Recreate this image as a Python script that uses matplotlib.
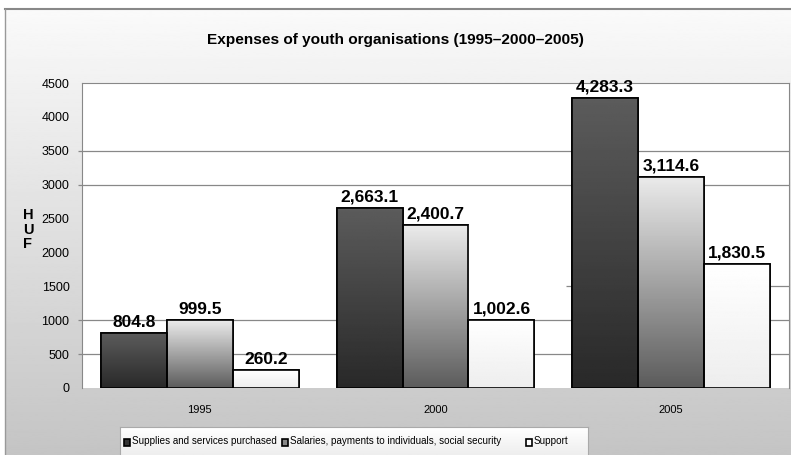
import matplotlib.pyplot as plt
import numpy as np
from matplotlib.patches import Rectangle

# data
years = ['1995', '2000', '2005']
supplies = [804.8, 2663.1, 4283.3]
salaries = [999.5, 2400.7, 3114.6]
support = [260.2, 1002.6, 1830.5]
series_names = ['Supplies and services purchased',
                'Salaries, payments to individuals, social security',
                'Support']
yticks = [0, 500, 1000, 1500, 2000, 2500, 3000, 3500, 4000, 4500]
grid_at = [500, 1000, 3000, 3500]

plt.rcParams['font.family'] = ['Liberation Sans', 'DejaVu Sans']

W, H = 791, 455
fig = plt.figure(figsize=(W / 100, H / 100), dpi=100)

# background: white strip on top, grey gradient frame below
bg = fig.add_axes([0, 0, 1, 1], zorder=-10)
bg.set_axis_off()
grad = np.linspace(0.98, 0.77, 256).reshape(-1, 1)
bg.imshow(grad, cmap='gray', vmin=0, vmax=1, aspect='auto',
          extent=[5 / W, 1, 0, 1 - 9 / H], transform=bg.transAxes)
bg.add_patch(Rectangle((0, 1 - 9 / H), 1, 9 / H, color='white', transform=bg.transAxes))
bg.plot([5 / W, 1], [1 - 9 / H, 1 - 9 / H], color='#888888', lw=1.5, transform=bg.transAxes)
bg.plot([5 / W, 5 / W], [0, 1 - 9 / H], color='#999999', lw=1, transform=bg.transAxes)
bg.set_xlim(0, 1)
bg.set_ylim(0, 1)

ax = fig.add_axes([82 / W, (H - 388) / H, (789 - 82) / W, (388 - 83) / H])
ax.set_facecolor('white')

x = np.arange(len(years))
bw = 0.28
dark = ax.bar(x - bw, supplies, bw, color='#333333', edgecolor='black', lw=1.2, zorder=3)
mid = ax.bar(x, salaries, bw, color='#aaaaaa', edgecolor='black', lw=1.2, zorder=3)
light = ax.bar(x + bw, support, bw, color='#f6f6f6', edgecolor='black', lw=1.2, zorder=3)

# vertical gradients inside the bars
gradients = [(dark, 0.36, 0.16), (mid, 0.92, 0.36), (light, 1.0, 0.93)]
for bars, top, bottom in gradients:
    for b in bars:
        x0, y0 = b.get_x(), b.get_y()
        g = np.linspace(top, bottom, 128).reshape(-1, 1)
        im = ax.imshow(g, cmap='gray', vmin=0, vmax=1, aspect='auto',
                       extent=[x0, x0 + b.get_width(), y0, y0 + b.get_height()],
                       zorder=3.5)
        im.set_clip_path(b)
        edge = Rectangle((x0, y0), b.get_width(), b.get_height(), fill=False,
                         edgecolor='black', lw=1.2, zorder=4)
        ax.add_patch(edge)

for bars, vals in [(dark, supplies), (mid, salaries), (light, support)]:
    for b, v in zip(bars, vals):
        ax.text(b.get_x() + b.get_width() / 2, v + 50, f'{v:,.1f}',
                ha='center', va='bottom', fontsize=12.5, fontweight='bold', zorder=5)

ax.set_xlim(-0.5, 2.5)
ax.set_ylim(0, 4500)
ax.set_yticks(yticks)
ax.set_yticklabels([str(t) for t in yticks], fontsize=9)
ax.set_xticks(x)
ax.set_xticklabels(years, fontsize=8)
ax.tick_params(axis='x', length=0, pad=12)
ax.tick_params(axis='y', length=0, pad=9)
# grid lines poke out a little past the left axis, like tick marks
ax.hlines(grid_at, -0.006, 1, transform=ax.get_yaxis_transform(),
          color='#888888', lw=0.9, zorder=1, clip_on=False)
# the 1500 line only shows up on the right-hand side in the original
ax.hlines(1500, 0.685, 1, transform=ax.get_yaxis_transform(),
          color='#888888', lw=0.9, zorder=1)
for s in ax.spines.values():
    s.set_color('#888888')
ax.spines['bottom'].set_visible(False)

fig.text(0.5, 1 - 40 / H, 'Expenses of youth organisations (1995\u20132000\u20132005)',
         ha='center', va='center', fontsize=11.1, fontweight='bold')
for i, ch in enumerate('HUF'):
    fig.text(28 / W, 1 - (215 + i * 14.5) / H, ch, ha='center', va='center',
             fontsize=10.5, fontweight='bold')

# legend box at the bottom
lg = fig.add_axes([120 / W, 0, (588 - 120) / W, (H - 427) / H], zorder=5)
lg.set_xlim(0, 468)
lg.set_ylim(0, 28)
lg.set_xticks([])
lg.set_yticks([])
lg.imshow(np.linspace(1.0, 0.93, 64).reshape(-1, 1), cmap='gray', vmin=0, vmax=1,
          aspect='auto', extent=[0, 468, 0, 28])
for s in lg.spines.values():
    s.set_color('#aaaaaa')
lg.spines['bottom'].set_visible(False)
swatch = [('#333333', 4), ('#888888', 162), ('white', 406)]
for (c, lx), name in zip(swatch, series_names):
    lg.add_patch(Rectangle((lx, 9), 6, 7, facecolor=c, edgecolor='black', lw=1.2))
    lg.text(lx + 8, 14, name, va='center', ha='left', fontsize=7.1)

fig.savefig('out.png', dpi=100)
